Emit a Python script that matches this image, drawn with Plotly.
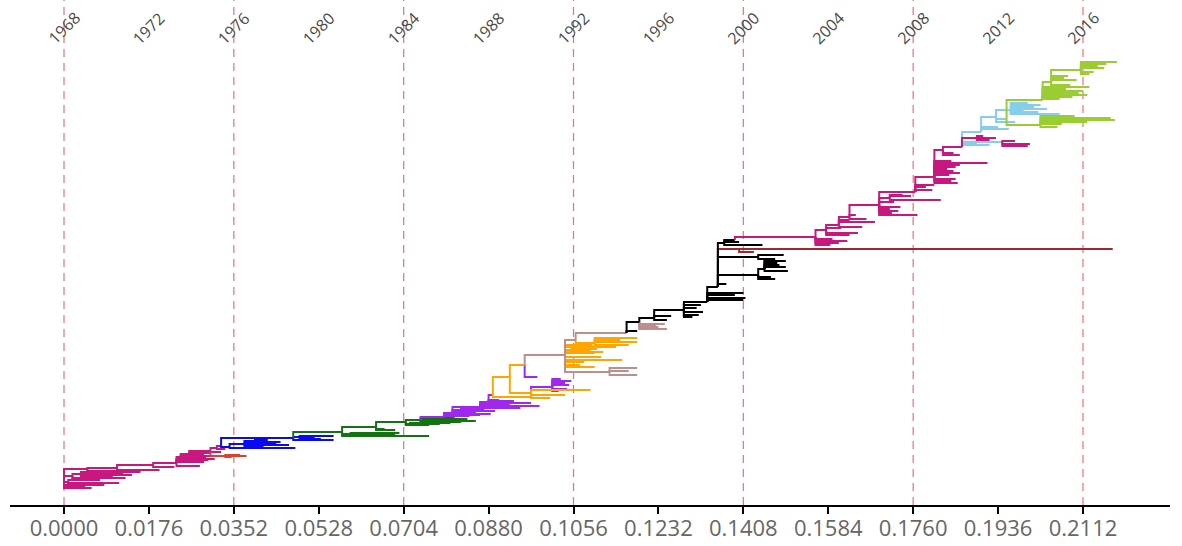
import plotly.graph_objects as go

# ---------------- data ----------------
ROOT_YEAR = 1968
SUBS_PER_YEAR = 0.0044          # substitutions per site per year (clock rate)

year_labels = [1968, 1972, 1976, 1980, 1984, 1988, 1992, 1996, 2000, 2004, 2008, 2012, 2016]
dashed_years = [1968, 1976, 1984, 1992, 2000, 2008, 2016]
sub_ticks = [0.0000, 0.0176, 0.0352, 0.0528, 0.0704, 0.0880, 0.1056,
             0.1232, 0.1408, 0.1584, 0.1760, 0.1936, 0.2112]

# branches: (parent node year, parent rank, own rank, own node/tip year)
PINK_ROOT = [
    (1968.0, 27, 17, 1969.3), (1968.0, 27, 20, 1969.9), (1968.0, 27, 23, 1968.2),
    (1968.2, 23, 22, 1970.6), (1968.2, 23, 25, 1969.7), (1968.2, 23, 19, 1969.0),
    (1968.2, 23, 21, 1969.4), (1968.0, 27, 18, 1968.7), (1968.0, 27, 29, 1968.4),
    (1968.4, 29, 27, 1970.9), (1968.4, 29, 26, 1969.6), (1968.4, 29, 31, 1968.8),
    (1968.8, 31, 30, 1971.2), (1968.8, 31, 33, 1971.6), (1968.8, 31, 28, 1970.3),
    (1968.8, 31, 32, 1970.0), (1968.0, 27, 36, 1969.1), (1969.1, 36, 34, 1971.6),
    (1969.1, 36, 32, 1970.8), (1969.1, 36, 37, 1970.5), (1970.5, 37, 35, 1972.5),
    (1970.5, 37, 40, 1972.2), (1972.2, 40, 38, 1973.2), (1972.2, 40, 42, 1973.3),
    (1973.3, 42, 39, 1974.4), (1973.3, 42, 44, 1974.2), (1973.3, 42, 46, 1975.1),
    (1973.3, 42, 43, 1974.6), (1973.3, 42, 45, 1974.8), (1973.3, 42, 48, 1973.5),
    (1973.5, 48, 47, 1974.7), (1973.5, 48, 49, 1975.3), (1973.5, 48, 50, 1974.1),
    (1973.5, 48, 51, 1973.9), (1973.9, 51, 50, 1974.6), (1973.9, 51, 52, 1974.9),
    (1973.9, 51, 54, 1974.9), (1974.9, 54, 53, 1975.4), (1974.9, 54, 57, 1975.2),
    (1975.2, 57, 56, 1975.6), (1975.2, 57, 59, 1975.4),
]
RED = [
    (1974.9, 54, 49, 1976.6), (1975.6, 49, 50, 1976.3), (1975.6, 49, 48, 1975.9),
]
BLUE = [
    (1975.4, 59, 67, 1978.8), (1975.4, 59, 58, 1975.8), (1975.8, 58, 57, 1978.9),
    (1975.8, 58, 61, 1976.5), (1976.5, 61, 60, 1978.6), (1976.5, 61, 62, 1977.7),
    (1976.5, 61, 59, 1977.4), (1976.5, 61, 64, 1977.0), (1977.0, 64, 63, 1978.2),
    (1977.0, 64, 62, 1978.0), (1977.0, 64, 65, 1977.6), (1977.0, 64, 66, 1977.3),
    (1978.8, 67, 65, 1980.7), (1978.8, 67, 68, 1979.1), (1979.1, 68, 69, 1980.7),
    (1979.1, 68, 66, 1980.1), (1979.1, 68, 67, 1979.8),
]
DARK_GREEN = [
    (1978.8, 67, 73, 1981.1), (1981.1, 73, 69, 1985.2), (1981.1, 73, 71, 1981.5),
    (1981.5, 71, 72, 1983.8), (1981.5, 71, 70, 1983.6), (1981.1, 73, 78, 1982.7),
    (1982.7, 78, 75, 1983.6), (1982.7, 78, 76, 1983.1), (1982.7, 78, 83, 1984.1),
    (1984.1, 83, 81, 1985.7), (1984.1, 83, 80, 1985.2), (1984.3, 83, 82, 1986.2),
    (1984.1, 83, 85, 1984.8), (1984.8, 85, 84, 1987.4), (1984.8, 85, 83, 1986.7),
    (1984.8, 85, 86, 1987.0), (1984.8, 85, 87, 1986.4),
]
PURPLE = [
    (1984.8, 85, 88, 1985.9), (1985.9, 88, 90, 1987.6), (1985.9, 88, 89, 1987.1),
    (1985.9, 88, 92, 1986.3), (1986.3, 92, 91, 1988.1), (1986.3, 92, 93, 1987.4),
    (1986.3, 92, 95, 1986.7), (1986.7, 95, 94, 1988.3), (1986.7, 95, 96, 1987.8),
    (1986.3, 92, 98, 1987.6), (1987.6, 98, 97, 1989.5), (1987.6, 98, 99, 1990.4),
    (1987.6, 98, 100, 1989.0), (1987.6, 98, 101, 1988.8), (1987.6, 98, 103, 1988.0),
    (1988.0, 103, 102, 1990.0), (1988.0, 103, 104, 1989.2), (1988.0, 103, 105, 1988.5),
    (1988.0, 103, 110, 1988.2),
    (1990.0, 112, 118, 1991.0), (1991.0, 118, 120, 1991.8), (1991.0, 118, 122, 1991.6),
    (1991.0, 118, 124, 1991.9), (1991.0, 118, 116, 1991.7), (1991.0, 118, 126, 1991.4),
    (1991.0, 118, 114, 1991.3), (1989.7, 140, 128, 1990.3),
]
ORANGE = [
    (1988.2, 110, 128, 1989.0), (1988.2, 110, 108, 1990.0), (1989.0, 128, 140, 1989.7),
    (1989.0, 128, 112, 1990.0), (1990.0, 112, 115, 1992.8), (1990.0, 112, 110, 1991.6),
    (1990.0, 112, 107, 1990.9),
    (1991.6, 150, 148, 1993.3), (1991.6, 150, 145, 1994.3), (1991.6, 150, 152, 1993.0),
    (1991.6, 150, 155, 1992.8), (1991.6, 150, 143, 1992.5), (1991.6, 150, 158, 1993.5),
    (1991.6, 150, 160, 1992.9), (1991.6, 150, 138, 1993.0), (1991.6, 150, 140, 1992.3),
    (1991.6, 150, 154, 1991.9), (1991.9, 154, 153, 1993.4), (1991.9, 154, 156, 1993.1),
    (1992.1, 165, 162, 1993.0), (1993.0, 162, 163, 1995.0), (1993.0, 162, 160, 1994.6),
    (1993.0, 162, 165, 1994.2), (1993.0, 162, 167, 1995.0), (1993.0, 162, 158, 1994.0),
]
ROSY = [
    (1989.7, 140, 150, 1991.6), (1991.6, 150, 133, 1993.7), (1993.7, 133, 130, 1995.0),
    (1993.7, 133, 137, 1995.0), (1993.7, 133, 134, 1994.6), (1991.6, 150, 165, 1992.1),
    (1992.1, 165, 172, 1994.5),
    (1995.1, 183, 181, 1996.3), (1995.1, 183, 178, 1996.0), (1995.1, 183, 176, 1996.4),
    (1995.1, 183, 180, 1995.9),
]
BROWN = [
    (1998.8, 248, 256, 2017.4), (1999.8, 256, 253, 2000.5),
]
BLACK = [
    (1994.5, 172, 183, 1995.1), (1994.5, 172, 174, 1995.0), (1995.1, 183, 187, 1995.8),
    (1995.8, 187, 185, 1996.4), (1995.8, 187, 189, 1996.6), (1995.8, 187, 195, 1997.2),
    (1997.2, 195, 190, 1997.9), (1997.2, 195, 193, 1998.1), (1997.2, 195, 188, 1997.6),
    (1997.2, 195, 197, 1997.8), (1997.2, 195, 200, 1998.0), (1997.2, 195, 203, 1998.3),
    (1998.3, 203, 205, 2000.0), (1998.3, 203, 207, 2000.1), (1998.3, 203, 210, 1999.6),
    (1998.3, 203, 212, 2000.0), (1998.3, 203, 218, 1998.8), (1998.8, 218, 221, 1999.2),
    (1998.8, 218, 230, 2000.7), (2000.7, 230, 228, 2001.3), (2000.7, 230, 226, 2001.5),
    (2000.7, 230, 236, 2001.0), (2001.0, 236, 234, 2002.1), (2001.0, 236, 238, 2002.0),
    (2001.0, 236, 240, 2001.7), (2001.0, 236, 242, 2001.6), (2001.0, 236, 244, 2002.0),
    (2001.0, 236, 246, 2001.5), (1998.8, 218, 248, 2000.7), (2000.7, 248, 246, 2001.2),
    (2000.7, 248, 250, 2001.9), (1998.8, 218, 262, 1999.1), (1999.1, 262, 265, 1999.6),
    (1999.1, 262, 260, 2000.9), (1999.1, 262, 263, 1999.8),
]
PINK_LATE = [
    (1999.6, 265, 268, 2003.4), (2003.4, 268, 262, 2004.5), (2003.4, 268, 264, 2004.9),
    (2003.4, 268, 266, 2004.2), (2003.4, 268, 260, 2004.1), (2003.4, 268, 275, 2003.9),
    (2003.9, 275, 270, 2005.0), (2003.9, 275, 272, 2005.4), (2003.9, 275, 277, 2004.6),
    (2003.9, 275, 280, 2004.5), (2004.5, 280, 278, 2005.6), (2004.5, 280, 283, 2006.2),
    (2004.5, 280, 285, 2005.0), (2004.5, 280, 288, 2005.0), (2005.0, 288, 286, 2005.8),
    (2005.0, 288, 290, 2005.3), (2005.0, 288, 300, 2006.4), (2006.4, 300, 290, 2008.2),
    (2006.4, 300, 292, 2007.0), (2006.4, 300, 294, 2007.3), (2006.4, 300, 296, 2006.9),
    (2006.4, 300, 298, 2007.4), (2006.4, 300, 303, 2007.1), (2006.4, 300, 307, 2006.9),
    (2006.9, 307, 305, 2009.3), (2006.9, 307, 309, 2007.9), (2006.9, 307, 310, 2007.5),
    (2006.4, 300, 313, 2008.1), (2008.1, 313, 315, 2008.9), (2008.1, 313, 318, 2008.6),
    (2008.1, 313, 320, 2009.0), (2008.1, 313, 328, 2009.0), (2009.0, 328, 322, 2010.1),
    (2009.0, 328, 324, 2009.8), (2009.0, 328, 326, 2010.0), (2009.0, 328, 330, 2009.7),
    (2009.0, 328, 332, 2010.2), (2009.0, 328, 334, 2009.9), (2009.0, 328, 336, 2009.6),
    (2009.0, 328, 338, 2010.0), (2009.0, 328, 340, 2010.2), (2009.0, 328, 342, 2011.5),
    (2009.0, 328, 344, 2009.8), (2009.0, 328, 355, 2009.4), (2009.4, 355, 350, 2010.2),
    (2009.4, 355, 352, 2009.9), (2009.4, 355, 358, 2010.3),
]
LIGHT_BLUE = [
    (2010.3, 358, 373, 2011.2), (2010.3, 358, 360, 2011.6), (2010.3, 358, 362, 2011.0),
    (2010.3, 358, 363, 2012.2), (2011.2, 373, 376, 2012.5), (2011.2, 373, 378, 2012.0),
    (2011.2, 373, 388, 2011.9), (2011.9, 388, 383, 2012.8), (2011.9, 388, 395, 2012.6),
    (2012.6, 395, 391, 2014.9), (2012.6, 395, 393, 2013.9), (2012.6, 395, 396, 2014.3),
    (2012.6, 395, 398, 2013.7), (2012.6, 395, 400, 2014.0), (2012.6, 395, 402, 2013.4),
    (2012.6, 395, 392, 2013.6), (2012.6, 395, 394, 2013.2), (2011.9, 388, 386, 2012.4),
]
PINK_SUB = [
    (2010.3, 358, 367, 2011.9), (2011.0, 367, 365, 2011.6), (2011.0, 367, 369, 2011.3),
    (2012.2, 363, 361, 2013.5), (2012.2, 363, 364, 2012.8), (2012.2, 363, 359, 2013.4),
]
YELLOW_GREEN = [
    (2012.4, 386, 380, 2014.0), (2014.0, 380, 378, 2014.8), (2014.0, 380, 381, 2015.0),
    (2014.0, 380, 383, 2016.2), (2014.0, 380, 385, 2017.5), (2014.0, 380, 387, 2017.3),
    (2014.0, 380, 389, 2015.6), (2012.4, 386, 405, 2014.1), (2014.1, 405, 406, 2014.9),
    (2014.1, 405, 408, 2015.5), (2014.1, 405, 410, 2016.2), (2014.1, 405, 412, 2015.8),
    (2014.1, 405, 414, 2016.0), (2014.1, 405, 416, 2015.2), (2014.1, 405, 418, 2016.3),
    (2014.1, 405, 423, 2014.5), (2014.5, 423, 420, 2015.4), (2014.5, 423, 425, 2015.7),
    (2014.5, 423, 427, 2015.1), (2014.5, 423, 429, 2015.3), (2014.5, 423, 435, 2015.9),
    (2015.9, 435, 443, 2017.6), (2015.9, 435, 441, 2017.1), (2015.9, 435, 439, 2016.7),
    (2015.9, 435, 437, 2017.0), (2015.9, 435, 433, 2016.5), (2015.9, 435, 431, 2016.3),
]

CLADES = [
    (PINK_ROOT, "#C8177E"), (RED, "#E0402A"), (BLUE, "#0A0AF0"),
    (DARK_GREEN, "#137313"), (PURPLE, "#A227EE"), (ORANGE, "#FFA500"),
    (ROSY, "#BC8F8F"), (BROWN, "#A0282D"), (BLACK, "#000000"),
    (PINK_LATE, "#C8177E"), (LIGHT_BLUE, "#87CEEB"), (PINK_SUB, "#C8177E"),
    (YELLOW_GREEN, "#9ACD32"),
]


def to_subs(year):
    return (year - ROOT_YEAR) * SUBS_PER_YEAR


fig = go.Figure()
for branches, color in CLADES:
    xs, ys = [], []
    for t0, yp, y, t1 in branches:
        x0, x1 = to_subs(t0), to_subs(t1)
        xs += [x0, x0, x1, None]
        ys += [yp, y, y, None]
    fig.add_trace(go.Scatter(x=xs, y=ys, mode="lines",
                             line=dict(color=color, width=2),
                             hoverinfo="skip", showlegend=False))

PLOT_TOP, PLOT_H = 45, 460
shapes = []
for yr in dashed_years:
    shapes.append(dict(type="line", xref="x", yref="paper",
                       x0=to_subs(yr), x1=to_subs(yr), y0=0, y1=1 + PLOT_TOP / PLOT_H,
                       line=dict(color="#EE6E74", width=1.2, dash="8px,6px"),
                       layer="below"))

annotations = []
for yr in year_labels:
    annotations.append(dict(x=to_subs(yr), xref="x", y=(PLOT_H + PLOT_TOP - 28) / PLOT_H,
                            yref="paper", text=str(yr), showarrow=False, textangle=-45,
                            xanchor="center", yanchor="middle",
                            font=dict(family="Open Sans", size=16, color="#4a4a4a")))

fig.update_layout(
    width=1182, height=546,
    margin=dict(l=10, r=12, t=PLOT_TOP, b=41),
    paper_bgcolor="white", plot_bgcolor="white",
    shapes=shapes, annotations=annotations,
    xaxis=dict(range=[-0.011192, 0.22923], tickvals=sub_ticks,
               ticktext=["%.4f" % v for v in sub_ticks], automargin=False,
               showgrid=False, zeroline=False, showline=True,
               linecolor="black", linewidth=2, ticks="outside", ticklen=7,
               tickwidth=1.5, tickcolor="black", ticklabelstandoff=-4,
               tickfont=dict(family="Open Sans", size=22, color="#666666")),
    yaxis=dict(range=[0, PLOT_H], visible=False, automargin=False),
)

fig.write_html("out.html", config={"displayModeBar": False})

# remove the browser's default page margin so the figure sits at the window origin
with open("out.html", encoding="utf-8") as fh:
    html = fh.read()
html = html.replace("<head>", "<head><style>html,body{margin:0;padding:0;overflow:hidden;}</style>", 1)
with open("out.html", "w", encoding="utf-8") as fh:
    fh.write(html)
